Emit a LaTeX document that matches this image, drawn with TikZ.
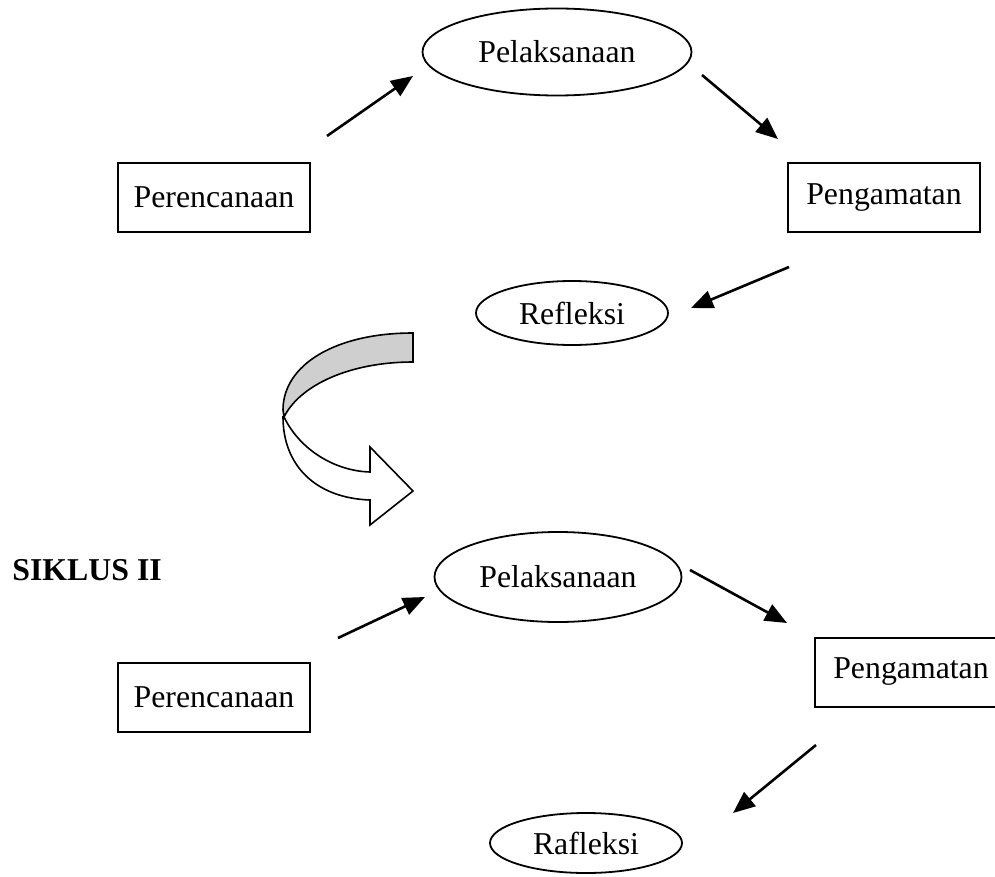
\documentclass[tikz,border=0pt]{standalone}
\usepackage{fontspec}
\setmainfont{Liberation Serif}
\usetikzlibrary{arrows.meta,shapes.geometric}
\begin{document}
\begin{tikzpicture}[x=1pt,y=-1pt,
  lbl/.style={font=\fontsize{31.8}{38}\selectfont},
  box/.style={lbl,draw,line width=2pt,minimum width=192pt,minimum height=69pt,inner sep=0pt},
  oval/.style={lbl,draw,ellipse,line width=1.8pt,inner sep=0pt},
  arr/.style={line width=2.6pt,-{Triangle[length=22pt,width=18pt]}},
  curvband/.style={line width=1.6pt,line join=miter}]
\clip (0,0) rectangle (995,877);
\fill[white] (0,0) rectangle (995,877);
% ---- cycle I
\node[oval,minimum width=269pt,minimum height=87pt] (pel1) at (557,52) {Pelaksanaan};
\node[box] (per1) at (214,197.5) {Perencanaan};
\node[box] (pen1) at (884,197.5) {Pengamatan};
\node[oval,minimum width=192pt,minimum height=64pt] (ref1) at (572,313) {Refleksi};
\coordinate (a1s) at (327,136); \coordinate (a1e) at (413,76);
\coordinate (a2s) at (702,75);  \coordinate (a2e) at (778,139);
\coordinate (a3s) at (789,267); \coordinate (a3e) at (691,308);
\draw[arr] (a1s) -- (a1e);
\draw[arr] (a2s) -- (a2e);
\draw[arr] (a3s) -- (a3e);
% ---- curved arrow
\filldraw[curvband,fill=black!19] (413,333) .. controls (335,333) and (283,365) .. (283,410)
   -- (284,417) .. controls (300,385) and (350,362) .. (413,362) -- cycle;
\filldraw[curvband,fill=white] (284,417) .. controls (300,450) and (335,471) .. (370,472)
   -- (370,447) -- (413,491) -- (370,525) -- (370,500)
   .. controls (315,498) and (283,465) .. (283,417) -- cycle;
% ---- cycle II
\node[font=\fontsize{31.8}{38}\selectfont\bfseries,anchor=base east,inner sep=0pt] (sik) at (162,580) {SIKLUS II};
\node[oval,minimum width=247pt,minimum height=90pt] (pel2) at (558,577) {Pelaksanaan};
\node[box] (per2) at (214,697.5) {Perencanaan};
\node[box] (pen2) at (911,672) {Pengamatan};
\node[oval,minimum width=192pt,minimum height=60pt] (raf2) at (586,843) {Rafleksi};
\coordinate (b1s) at (338,638); \coordinate (b1e) at (425,597);
\coordinate (b2s) at (690,570); \coordinate (b2e) at (787,623);
\coordinate (b3s) at (816,745); \coordinate (b3e) at (733,813);
\draw[arr] (b1s) -- (b1e);
\draw[arr] (b2s) -- (b2e);
\draw[arr] (b3s) -- (b3e);
\end{tikzpicture}
\end{document}
